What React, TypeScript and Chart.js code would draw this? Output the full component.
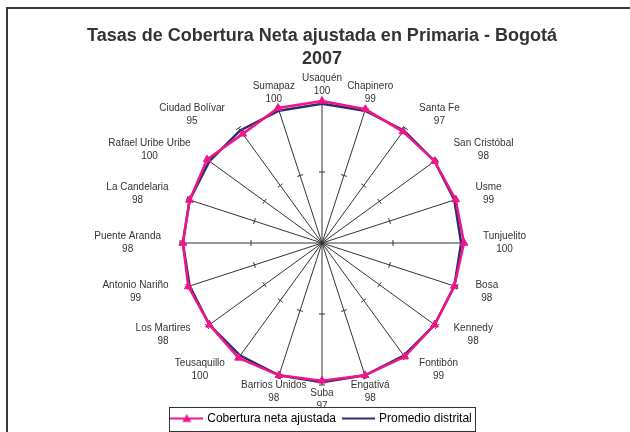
import React, { useEffect, useRef } from 'react';
import { Chart, registerables } from 'chart.js';

Chart.register(...registerables);

const localidades = [
  'Usaquén', 'Chapinero', 'Santa Fe', 'San Cristóbal', 'Usme', 'Tunjuelito', 'Bosa',
  'Kennedy', 'Fontibón', 'Engativá', 'Suba', 'Barrios Unidos', 'Teusaquillo',
  'Los Martires', 'Antonio Nariño', 'Puente Aranda', 'La Candelaria',
  'Rafael Uribe Uribe', 'Ciudad Bolívar', 'Sumapaz',
];
const coberturaNeta = [100, 99, 97, 98, 99, 100, 98, 98, 99, 98, 97, 98, 100, 98, 99, 98, 98, 100, 95, 100];
const promedioDistrital = [98, 98, 98, 98, 98, 98, 98, 98, 98, 98, 98, 98, 98, 98, 98, 98, 98, 98, 98, 98];
const seriesNombres = ['Cobertura neta ajustada', 'Promedio distrital'];
const tituloLineas = ['Tasas de Cobertura Neta ajustada en Primaria - Bogotá', '2007'];
const escalaMin = 0;
const escalaMax = 100;
const escalaPaso = 50;

const PINK = '#EE168C';
const NAVY = '#2D2D6B';
const FONT = '"Liberation Sans", Arial, sans-serif';

function makeLegendImage(color: string, withTriangle: boolean) {
  const c = document.createElement('canvas');
  c.width = 33;
  c.height = 12;
  const x = c.getContext('2d')!;
  x.strokeStyle = color;
  x.lineWidth = 2;
  x.beginPath();
  x.moveTo(0, 6);
  x.lineTo(33, 6);
  x.stroke();
  if (withTriangle) {
    x.fillStyle = color;
    x.beginPath();
    x.moveTo(16.5, 1.5);
    x.lineTo(21, 9.5);
    x.lineTo(12, 9.5);
    x.closePath();
    x.fill();
  }
  return c;
}

const spokeTicksPlugin = {
  id: 'spokeTicks',
  beforeDatasetsDraw(chart: any) {
    const scale = chart.scales.r;
    const ctx = chart.ctx;
    const values = scale.ticks.map((t: any) => t.value).filter((v: number) => v > scale.min);
    ctx.save();
    ctx.strokeStyle = '#333';
    ctx.lineWidth = 1;
    ctx.beginPath();
    for (let i = 0; i < chart.data.labels.length; i++) {
      const a = scale.getIndexAngle(i) - Math.PI / 2;
      const dx = Math.cos(a);
      const dy = Math.sin(a);
      for (const v of values) {
        const p = scale.getPointPosition(i, scale.getDistanceFromCenterForValue(v));
        ctx.moveTo(p.x - dy * 3, p.y + dx * 3);
        ctx.lineTo(p.x + dy * 3, p.y - dx * 3);
      }
    }
    ctx.stroke();
    ctx.restore();
  },
};

const labelsAndLegendPlugin = {
  id: 'labelsAndLegend',
  afterDatasetsDraw(chart: any) {
    const scale = chart.scales.r;
    const ctx = chart.ctx;
    const ds = chart.data.datasets[0];
    ctx.save();
    ctx.font = '10px ' + FONT;
    ctx.fillStyle = '#333';
    ctx.textAlign = 'center';
    ctx.textBaseline = 'middle';
    chart.data.labels.forEach((lab: string, i: number) => {
      const th = scale.getIndexAngle(i);
      const s = Math.sin(th);
      const c = Math.cos(th);
      const p = scale.getPointPosition(i, scale.drawingArea);
      const lines = [String(lab), String(ds.data[i])];
      const w = Math.max(...lines.map((l) => ctx.measureText(l).width));
      const cx = Math.abs(s) < 0.5 ? p.x + s * 14 : p.x + Math.sign(s) * (w / 2 + 6 + 13 * Math.abs(s));
      const cy = p.y - c * (c > 0 ? 16 : 14.5);
      ctx.fillText(lines[0], cx, cy - 6.5);
      ctx.fillText(lines[1], cx, cy + 6.5);
    });
    ctx.restore();

    // legend frame drawn over the plot, then legend redrawn on top
    const legend = chart.legend;
    const hb = legend && legend.legendHitBoxes;
    if (hb && hb.length) {
      const first = hb[0];
      const last = hb[hb.length - 1];
      const left = Math.round(first.left - 3) + 0.5;
      const right = Math.round(last.left + last.width + 3) + 0.5;
      const top = Math.round(first.top - 6) + 0.5;
      const bottom = Math.round(first.top + first.height + 6) + 0.5;
      ctx.save();
      ctx.fillStyle = '#fff';
      ctx.fillRect(left, top, right - left, bottom - top);
      ctx.strokeStyle = '#333';
      ctx.lineWidth = 1;
      ctx.strokeRect(left, top, right - left, bottom - top);
      ctx.restore();
      legend.draw();
    }

    // outer frame (top and left edges)
    ctx.save();
    ctx.strokeStyle = '#3a3a3a';
    ctx.lineWidth = 2;
    ctx.beginPath();
    ctx.moveTo(6, 8);
    ctx.lineTo(630, 8);
    ctx.moveTo(7, 7);
    ctx.lineTo(7, 432);
    ctx.stroke();
    ctx.restore();
  },
};

export default function App() {
  const ref = useRef<HTMLCanvasElement>(null);

  useEffect(() => {
    if (!ref.current) return;
    const pinkImg = makeLegendImage(PINK, true);
    const navyImg = makeLegendImage(NAVY, false);
    const chart = new Chart(ref.current, {
      type: 'radar',
      data: {
        labels: localidades,
        datasets: [
          {
            label: seriesNombres[0],
            data: coberturaNeta,
            borderColor: PINK,
            backgroundColor: PINK,
            borderWidth: 2.5,
            fill: false,
            pointStyle: 'triangle',
            pointRadius: 4.5,
            pointBackgroundColor: PINK,
            pointBorderColor: PINK,
            pointBorderWidth: 1,
          },
          {
            label: seriesNombres[1],
            data: promedioDistrital,
            borderColor: NAVY,
            backgroundColor: NAVY,
            borderWidth: 2.5,
            fill: false,
            pointRadius: 0,
          },
        ],
      },
      options: {
        responsive: false,
        animation: false,
        devicePixelRatio: 1,
        font: { family: FONT },
        layout: { padding: { left: 14, right: 0, top: 0, bottom: -2.5 } },
        scales: {
          r: {
            min: escalaMin,
            max: escalaMax,
            ticks: { display: false, stepSize: escalaPaso },
            grid: { display: false },
            angleLines: { display: true, color: '#333', lineWidth: 1 },
            pointLabels: { display: false },
          },
        },
        plugins: {
          tooltip: { enabled: false },
          title: {
            display: true,
            text: tituloLineas,
            color: '#333',
            font: { family: FONT, size: 18, weight: 'bold', lineHeight: 1.3 },
            padding: { top: 24, bottom: 30.2 },
          },
          legend: {
            display: true,
            position: 'bottom',
            title: { display: true, text: '', font: { size: 10, lineHeight: 1.2 }, padding: { top: 3.75, bottom: 3.75 } },
            labels: {
              usePointStyle: true,
              pointStyleWidth: 29,
              padding: 8,
              color: '#000',
              font: { family: FONT, size: 12 },
              generateLabels: (ch: any) =>
                ch.data.datasets.map((d: any, i: number) => ({
                  text: d.label,
                  pointStyle: i === 0 ? pinkImg : navyImg,
                  fillStyle: d.borderColor,
                  strokeStyle: d.borderColor,
                  fontColor: '#000',
                  lineWidth: 0,
                  hidden: false,
                  datasetIndex: i,
                })),
            },
          },
        },
      },
      plugins: [spokeTicksPlugin, labelsAndLegendPlugin],
    } as any);
    return () => chart.destroy();
  }, []);

  return (
    <div style={{ position: 'fixed', left: 0, top: 0, width: 630, height: 432, background: '#fff' }}>
      <canvas ref={ref} width={630} height={432} style={{ width: 630, height: 432, display: 'block' }} />
    </div>
  );
}
